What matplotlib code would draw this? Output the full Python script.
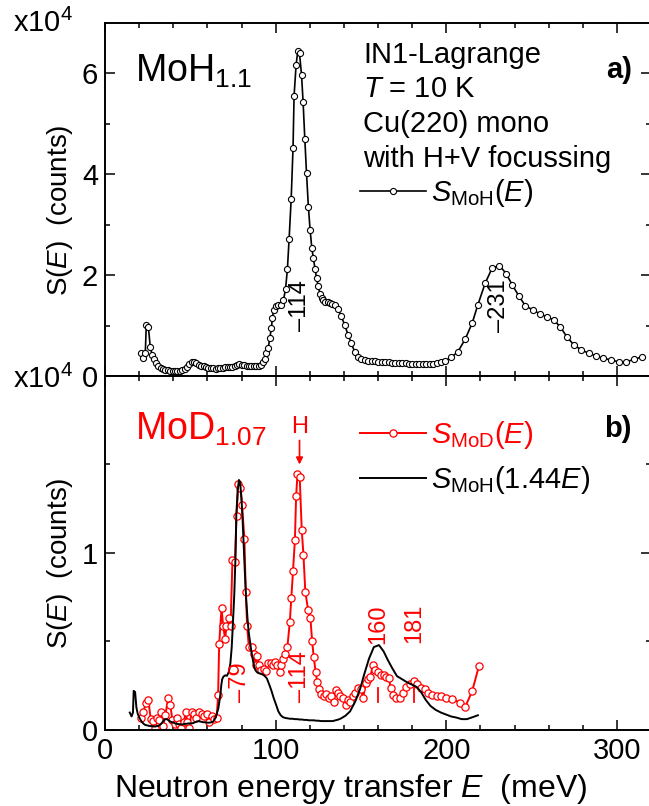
import numpy as np
import matplotlib
matplotlib.use("Agg")
import matplotlib.pyplot as plt
from matplotlib.ticker import MultipleLocator, FixedLocator

plt.rcParams['font.family'] = ['Liberation Sans', 'DejaVu Sans']
plt.rcParams['mathtext.fontset'] = 'custom'
plt.rcParams['mathtext.rm'] = 'Liberation Sans'
plt.rcParams['mathtext.it'] = 'Liberation Sans:italic'
plt.rcParams['mathtext.bf'] = 'Liberation Sans:bold'

# MoH1.1 spectrum (top panel), S in units of 1e4 counts
e_moh = [20.9, 22.4, 23.6, 24.2, 25.4, 26.5, 27.6, 28.8, 30.0, 31.3, 32.6, 34.0, 35.4, 36.8,
         38.2, 39.6, 41.0, 42.4, 43.8, 45.2, 46.6, 48.0, 49.4, 50.8, 52.2, 53.6, 55.0, 56.4,
         57.8, 59.2, 60.6, 62.0, 63.4, 64.8, 66.2, 67.6, 69.0, 70.4, 71.8, 73.2, 74.6, 76.0,
         77.4, 78.8, 80.2, 81.6, 83.0, 84.4, 85.8, 87.2, 88.6, 90.0, 91.4, 92.6, 93.6, 94.6,
         95.6, 96.6, 97.5, 98.1, 98.9, 100.0, 101.5, 103.0, 104.6, 105.8, 106.9, 107.9, 109.1,
         110.2, 110.8, 112.0, 113.0, 114.0, 115.2, 116.1, 117.1, 118.1, 119.2, 120.2, 121.2,
         122.1, 123.1, 124.0, 125.0, 126.0, 127.0, 128.0, 129.2, 130.4, 131.7, 133.0, 134.6,
         136.6, 138.5, 140.5, 142.4, 144.4, 146.3, 148.3, 150.2, 152.2, 154.2, 156.2, 158.2,
         160.2, 162.2, 164.2, 166.2, 168.2, 170.2, 172.2, 174.2, 176.2, 178.2, 180.2, 182.2,
         184.2, 186.2, 188.2, 190.2, 192.2, 194.6, 197.0, 199.3, 203.0, 206.8, 211.1, 215.2,
         218.5, 222.8, 226.9, 231.2, 235.1, 238.6, 242.5, 246.4, 250.7, 255.0, 259.1, 263.0,
         266.7, 270.6, 274.7, 279.0, 283.5, 287.8, 292.0, 296.6, 301.0, 305.4, 310.2, 314.7]
s_moh = [0.45, 0.35, 0.45, 1.01, 0.98, 0.58, 0.42, 0.33, 0.26, 0.20, 0.16, 0.13, 0.12, 0.11,
         0.10, 0.10, 0.09, 0.09, 0.10, 0.11, 0.14, 0.18, 0.24, 0.28, 0.28, 0.25, 0.22, 0.20,
         0.19, 0.17, 0.16, 0.15, 0.15, 0.14, 0.15, 0.16, 0.16, 0.17, 0.17, 0.17, 0.18, 0.20,
         0.22, 0.23, 0.22, 0.21, 0.20, 0.20, 0.19, 0.19, 0.19, 0.20, 0.22, 0.28, 0.33, 0.45,
         0.55, 0.75, 0.95, 1.15, 1.31, 1.38, 1.41, 1.40, 1.51, 1.72, 2.12, 2.72, 3.50,
         4.53, 5.55, 6.17, 6.45, 6.40, 5.96, 5.43, 4.70, 4.02, 3.35, 2.90, 2.54,
         2.34, 2.12, 1.94, 1.78, 1.62, 1.54, 1.50, 1.47, 1.46, 1.45, 1.43, 1.40,
         1.33, 1.18, 1.01, 0.82, 0.65, 0.48, 0.38, 0.33, 0.31, 0.30, 0.29, 0.29,
         0.28, 0.28, 0.27, 0.27, 0.26, 0.26, 0.25, 0.25, 0.25, 0.24, 0.24, 0.23,
         0.23, 0.23, 0.23, 0.23, 0.23, 0.25, 0.27, 0.30, 0.37, 0.48, 0.73, 1.05,
         1.41, 1.84, 2.14, 2.19, 2.03, 1.81, 1.59, 1.39, 1.31, 1.23, 1.17, 1.11,
         0.98, 0.78, 0.62, 0.52, 0.45, 0.40, 0.35, 0.32, 0.28, 0.28, 0.33, 0.38]

# MoD1.07 spectrum (bottom panel)
e_mod = [21.0, 22.5, 23.8, 25.4, 26.8, 28.3, 29.3, 30.2, 31.6, 33.1, 34.1, 35.4, 37.0, 38.3,
         39.5, 40.9, 42.2, 43.4, 44.8, 46.2, 47.3, 48.3, 49.3, 50.7, 52.3, 53.6, 55.0, 56.6,
         57.9, 59.5, 61.0, 62.6, 64.0, 65.4, 66.3, 66.9, 68.3, 69.2, 70.4, 71.2, 72.7, 73.6,
         74.7, 76.1, 77.1, 78.0, 79.4, 80.3, 81.7, 82.5, 83.3, 84.3, 86.2, 87.2, 88.3, 89.3,
         90.3, 91.6, 93.2, 94.6, 95.7, 97.1, 98.5, 99.8, 101.0, 102.4, 103.3, 104.4, 105.6,
         106.9, 108.3, 109.2, 110.2, 111.3, 112.0, 112.8, 114.1, 115.3, 116.3, 117.4, 119.0,
         120.4, 121.4, 122.3, 123.4, 124.4, 125.4, 126.8, 128.1, 129.6, 131.2, 132.7, 134.1,
         135.2, 136.6, 137.9, 139.5, 141.0, 142.4, 143.8, 145.3, 146.8, 148.3, 149.9, 151.3,
         152.7, 153.9, 155.5, 157.1, 158.5, 160.0, 161.6, 163.3, 164.5, 166.3, 167.4, 168.8,
         170.8, 172.7, 174.6, 176.6, 178.5, 181.1, 183.0, 185.0, 187.3, 189.2, 191.8, 194.5,
         197.1, 199.6, 203.5, 207.8, 211.1, 215.2, 219.1]
s_mod = [0.07, 0.10, 0.15, 0.17, 0.06, 0.05, 0.01, 0.07, 0.055, 0.10, 0.025, 0.085, 0.18, 0.14,
         0.055, 0.035, 0.07, 0.035, 0.01, 0.045, 0.10, 0.045, 0.01, 0.10, 0.09, 0.07, 0.10, 0.09,
         0.08, 0.09, 0.045, 0.08, 0.06, 0.065, 0.20, 0.485, 0.69, 0.59, 0.515, 0.585, 0.63, 0.59,
         0.96, 0.95, 1.21, 1.39, 1.37, 1.27, 1.08, 0.78, 0.585, 0.47, 0.47, 0.43, 0.37, 0.42,
         0.37, 0.34, 0.345, 0.335, 0.38, 0.38, 0.37, 0.385, 0.37, 0.33, 0.37, 0.40, 0.43,
         0.47, 0.61, 0.745, 0.90, 1.075, 1.32, 1.445, 1.43, 1.13, 0.99, 0.78, 0.68,
         0.63, 0.50, 0.415, 0.33, 0.27, 0.23, 0.205, 0.19, 0.205, 0.18, 0.19, 0.16,
         0.225, 0.21, 0.19, 0.18, 0.14, 0.17, 0.16, 0.19, 0.21, 0.235, 0.23, 0.18,
         0.265, 0.29, 0.30, 0.37, 0.34, 0.325, 0.31, 0.31, 0.30, 0.295, 0.24, 0.20,
         0.18, 0.18, 0.21, 0.245, 0.26, 0.275, 0.26, 0.24, 0.23, 0.21, 0.20, 0.19,
         0.19, 0.18, 0.175, 0.155, 0.13, 0.22, 0.36]

# S_MoH(1.44E): energy rescaled, intensity normalised to the MoD spectrum
energy_factor = 1.44
intensity_factor = 0.219
e_moh_scaled = np.array(e_moh) / energy_factor
s_moh_scaled = np.array(s_moh) * intensity_factor

peaks_moh = [114, 231]
peaks_mod_dash = [79, 114]
peaks_mod_tick = [160, 181]

info_lines = ['IN1-Lagrange', r'$\mathit{T}$ = 10 K', 'Cu(220) mono', 'with H+V focussing']

FS = 21     # ticks / annotation text
fig = plt.figure(figsize=(6.49, 8.06), dpi=100)
ax1 = fig.add_axes([0.1618, 0.5335, 0.8413, 0.4380])
ax2 = fig.add_axes([0.1618, 0.0943, 0.8413, 0.4392])

for ax in (ax1, ax2):
    ax.set_xlim(0, 320)
    ax.xaxis.set_major_locator(MultipleLocator(100))
    ax.xaxis.set_minor_locator(MultipleLocator(20))
    ax.tick_params(which='both', direction='in', top=True, right=True, labelsize=FS, width=1.1)
    ax.tick_params(which='major', length=7.5, pad=5)
    ax.tick_params(which='minor', length=3.5)
    for sp in ax.spines.values():
        sp.set_linewidth(1.4)
    ax.set_ylabel(r'S($\mathit{E}$)  (counts)', fontsize=20)
    ax.yaxis.set_label_coords(-0.0825, 0.47)
    ax.yaxis.label.set_va('center')

# top panel
ax1.set_ylim(0, 7)
ax1.yaxis.set_major_locator(FixedLocator([0, 2, 4, 6]))
ax1.yaxis.set_minor_locator(FixedLocator([1, 3, 5]))
ax1.tick_params(labelbottom=False)
ax1.plot(e_moh, s_moh, '-o', color='black', lw=1.2, ms=4.4, mfc='white', mec='black',
         mew=0.8, label=r'$S_{\rm MoH}(E)$')
ax1.text(0.055, 0.834, r'MoH$_{\rm 1.1}$', transform=ax1.transAxes, fontsize=27, va='baseline')
ax1.text(0.965, 0.844, 'a)', transform=ax1.transAxes, fontsize=FS, fontweight='bold',
         ha='right', va='baseline')
for i, line in enumerate(info_lines):
    ax1.text(0.4725, 0.887 - 0.098 * i, line, transform=ax1.transAxes, fontsize=FS,
             va='baseline')
for p in peaks_moh:
    ax1.text(p, 1.39, '\u2013' + str(p), rotation=90, fontsize=17, ha='center', va='center')
ax1.legend(loc='center left', bbox_to_anchor=(0.467, 0.518), frameon=False, fontsize=FS,
           handlelength=2.25, handletextpad=0.2, numpoints=1, borderaxespad=0, borderpad=0)

# bottom panel
ax2.set_ylim(0, 2)
ax2.yaxis.set_major_locator(FixedLocator([0, 1]))
ax2.yaxis.set_minor_locator(FixedLocator([0.5, 1.5]))
ax2.plot(e_mod, s_mod, '-o', color='red', lw=1.4, ms=5.2, mfc='white', mec='red', mew=0.9,
         label=r'$S_{\rm MoD}(E)$')
ax2.plot(e_moh_scaled, s_moh_scaled, '-', color='black', lw=1.4, label=r'$S_{\rm MoH}(1.44E)$')
ax2.set_xlabel(r'Neutron energy transfer $\mathit{E}$  (meV)', fontsize=23)
ax2.xaxis.set_label_coords(0.45, -0.19)
ax2.xaxis.label.set_va('baseline')
ax2.text(0.055, 0.819, r'MoD$_{\rm 1.07}$', transform=ax2.transAxes, fontsize=27, va='baseline',
         color='red')
ax2.text(0.965, 0.828, 'b)', transform=ax2.transAxes, fontsize=FS, fontweight='bold',
         ha='right', va='baseline')
ax2.annotate('H', xy=(114, 1.50), xytext=(114, 1.68), color='red', fontsize=17, ha='center',
             va='baseline', arrowprops=dict(arrowstyle='-|>', color='red', lw=1.2,
                                            mutation_scale=10, shrinkA=0, shrinkB=0))
for p, y in zip(peaks_mod_dash, [0.27, 0.30]):
    ax2.text(p, y, '\u2013' + str(p), rotation=90, fontsize=17, ha='center', va='center',
             color='red')
for p in peaks_mod_tick:
    ax2.text(p, 0.60, str(p), rotation=90, fontsize=17, ha='center', va='center', color='red')
    ax2.plot([p, p], [0.16, 0.24], color='red', lw=1.3)
leg = ax2.legend(loc='center left', bbox_to_anchor=(0.467, 0.770), frameon=False, fontsize=FS,
                 handlelength=2.25, handletextpad=0.2, numpoints=1, borderaxespad=0,
                 borderpad=0, labelspacing=0.45)
leg.get_texts()[0].set_color('red')

fig.text(0.02, 0.960, r'x10$^{4}$', fontsize=FS, va='baseline')
fig.text(0.02, 0.5186, r'x10$^{4}$', fontsize=FS, va='baseline')

fig.savefig('out.png', dpi=100)
